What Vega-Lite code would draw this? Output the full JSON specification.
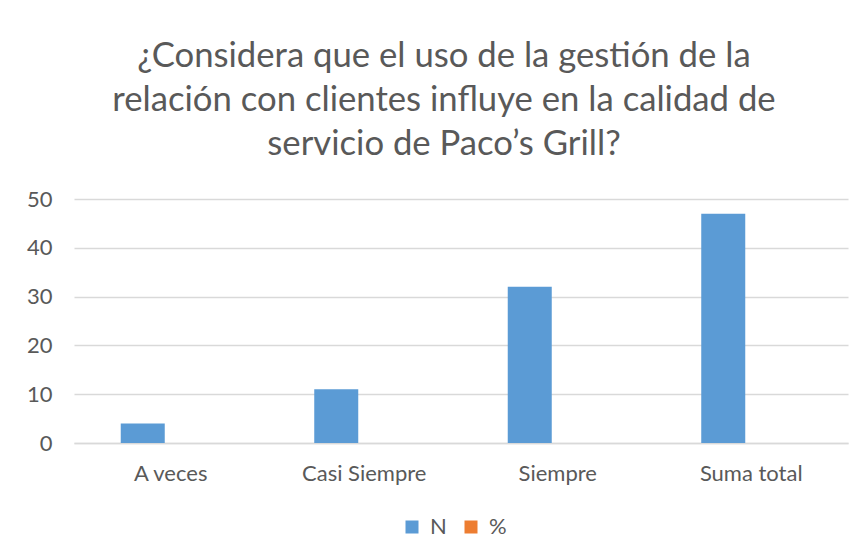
{
  "$schema": "https://vega.github.io/schema/vega-lite/v6.json",
  "width": 774,
  "height": 244,
  "autosize": "none",
  "padding": {"left": 74, "top": 199, "right": 15, "bottom": 117},
  "background": "white",
  "title": {
    "text": ["¿Considera que el uso de la gestión de la", "relación con clientes influye en la calidad de", "servicio de Paco’s Grill?"],
    "font": "Lato",
    "fontSize": 34.7,
    "fontWeight": "normal",
    "color": "#595959",
    "lineHeight": 44,
    "anchor": "middle",
    "dx": -17,
    "offset": 25
  },
  "data": {
    "values": [
      {"cat": "A veces", "serie": "N", "valor": 4},
      {"cat": "A veces", "serie": "%", "valor": 0},
      {"cat": "Casi Siempre", "serie": "N", "valor": 11},
      {"cat": "Casi Siempre", "serie": "%", "valor": 0},
      {"cat": "Siempre", "serie": "N", "valor": 32},
      {"cat": "Siempre", "serie": "%", "valor": 0},
      {"cat": "Suma total", "serie": "N", "valor": 47},
      {"cat": "Suma total", "serie": "%", "valor": 0}
    ]
  },
  "mark": {"type": "bar"},
  "encoding": {
    "x": {
      "field": "cat",
      "type": "nominal",
      "sort": null,
      "scale": {"paddingInner": 0.4832, "paddingOuter": 0.2416},
      "axis": {
        "title": null,
        "labelAngle": 0,
        "labelFont": "Lato",
        "labelFontSize": 22,
        "labelColor": "#595959",
        "labelPadding": 20,
        "ticks": false,
        "domainColor": "#d9d9d9",
        "domainWidth": 1.5,
        "grid": false
      }
    },
    "xOffset": {
      "field": "serie",
      "type": "nominal",
      "sort": ["N", "%"],
      "scale": {"paddingInner": 0, "paddingOuter": 0.13636, "align": 0}
    },
    "y": {
      "field": "valor",
      "type": "quantitative",
      "scale": {"domain": [0, 50]},
      "axis": {
        "title": null,
        "values": [0, 10, 20, 30, 40, 50],
        "labelFont": "Lato",
        "labelFontSize": 22,
        "labelColor": "#595959",
        "labelPadding": 22,
        "ticks": false,
        "domain": false,
        "gridColor": "#d9d9d9",
        "gridWidth": 1.5
      }
    },
    "color": {
      "field": "serie",
      "type": "nominal",
      "sort": ["N", "%"],
      "scale": {"domain": ["N", "%"], "range": ["#5B9BD5", "#ED7D31"]},
      "legend": {
        "title": null,
        "orient": "none",
        "legendX": 327,
        "legendY": 317,
        "direction": "horizontal",
        "symbolType": "square",
        "symbolSize": 169,
        "symbolStrokeWidth": 0,
        "labelFont": "Lato",
        "labelFontSize": 22,
        "labelColor": "#595959",
        "labelOffset": 7,
        "columnPadding": 13
      }
    }
  },
  "config": {"view": {"stroke": null}}
}
